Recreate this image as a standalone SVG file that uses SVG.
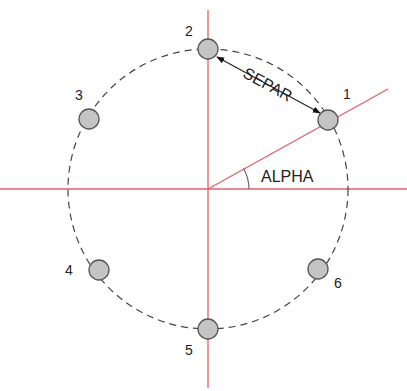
<svg xmlns="http://www.w3.org/2000/svg" width="407" height="391" viewBox="0 0 407 391">
<style>
.axis{stroke:#e0606a;stroke-width:1.3;fill:none}
.orbit{stroke:#444;stroke-width:1.2;fill:none;stroke-dasharray:7 5}
.node{fill:#c4c4c4;stroke:#555;stroke-width:1.3}
.lbl{font-family:"Liberation Sans",Arial,sans-serif;font-size:14px;fill:#222}
.big{font-size:16px}
.arc{stroke:#666;stroke-width:1.2;fill:none}
.sep{stroke:#222;stroke-width:1.1;fill:none}
</style>
<defs>
<marker id="ah" viewBox="0 0 10 10" refX="9" refY="5" markerWidth="8" markerHeight="8" orient="auto-start-reverse" markerUnits="userSpaceOnUse">
<path d="M0,1 L10,5 L0,9 Z" fill="#111"/>
</marker>
</defs>
<rect width="407" height="391" fill="#fff"/>
<g id="connectors">
<line class="axis" x1="208" y1="10" x2="208" y2="388"/>
<line class="axis" x1="0" y1="189" x2="407" y2="189"/>
<line class="axis" x1="208" y1="189" x2="388" y2="89"/>
<circle class="orbit" cx="208" cy="189" r="140"/>
<path class="arc" d="M249,189 A41,41 0 0 0 243.5,168.5"/>
<line class="sep" x1="217" y1="57" x2="320" y2="113" marker-start="url(#ah)" marker-end="url(#ah)"/>
</g>
<g id="node1"><circle class="node" cx="328" cy="120" r="10"/><text class="lbl" x="343" y="99">1</text></g>
<g id="node2"><circle class="node" cx="208" cy="49" r="10"/><text class="lbl" x="185" y="36">2</text></g>
<g id="node3"><circle class="node" cx="89" cy="119" r="10"/><text class="lbl" x="75" y="100">3</text></g>
<g id="node4"><circle class="node" cx="99" cy="270" r="10"/><text class="lbl" x="65" y="275">4</text></g>
<g id="node5"><circle class="node" cx="208" cy="329" r="10"/><text class="lbl" x="185" y="355">5</text></g>
<g id="node6"><circle class="node" cx="318" cy="269" r="10"/><text class="lbl" x="334" y="288">6</text></g>
<g id="labels">
<text class="lbl big" x="268" y="90" text-anchor="middle" transform="rotate(28.5 268 84)">SEPAR</text>
<text class="lbl big" x="261" y="182">ALPHA</text>
</g>
</svg>
